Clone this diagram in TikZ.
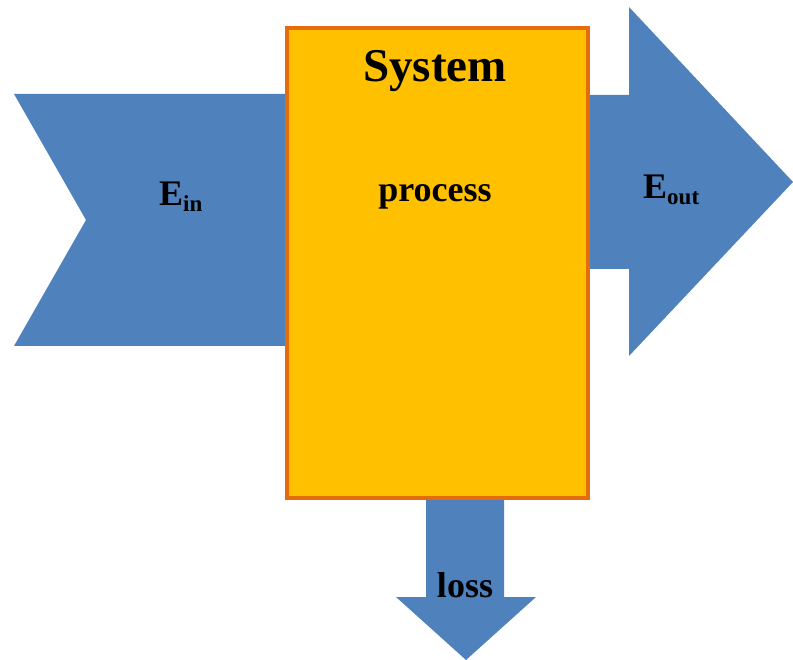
\documentclass[tikz,border=0pt]{standalone}
\usepackage{fontspec}
\setmainfont{Liberation Serif}
\definecolor{arrowblue}{RGB}{79,129,189}
\definecolor{boxfill}{RGB}{255,192,0}
\definecolor{boxline}{RGB}{228,108,10}
\begin{document}
\begin{tikzpicture}[x=1pt,y=-1pt,
  flow/.style={fill=arrowblue,draw=none},
  lbl/.style={inner sep=0pt,anchor=base,font=\bfseries\fontsize{36}{36}\selectfont},
  sub/.style={font=\bfseries\fontsize{24}{24}\selectfont}]
\useasboundingbox (0,0) rectangle (793,660);
% input chevron
\fill[flow] (14,94) -- (290,94) -- (290,346) -- (14,346) -- (86,220) -- cycle;
% output arrow
\fill[flow] (580,95) -- (629,95) -- (629,7) -- (793,182) -- (629,356) -- (629,269) -- (580,269) -- cycle;
% loss arrow
\fill[flow] (426,490) -- (504,490) -- (504,597) -- (536,597) -- (466,660) -- (396,597) -- (426,597) -- cycle;
% system box
\node[draw=boxline,fill=boxfill,line width=4pt,minimum width=301pt,minimum height=470pt,inner sep=0pt,anchor=north west] (sys) at (285,26) {};
\node[lbl,font=\bfseries\fontsize{47}{47}\selectfont] (title) at (435,82) {System};
\node[lbl] (proc) at (435,202) {process};
\node[lbl,anchor=base west] (ein) at (159,206) {E\raisebox{-6pt}{\fontsize{23}{23}\selectfont in}};
\node[lbl,anchor=base west] (eout) at (643,199) {E\raisebox{-6pt}{\fontsize{23}{23}\selectfont out}};
\node[lbl] (loss) at (465,597) {loss};
\end{tikzpicture}
\end{document}
